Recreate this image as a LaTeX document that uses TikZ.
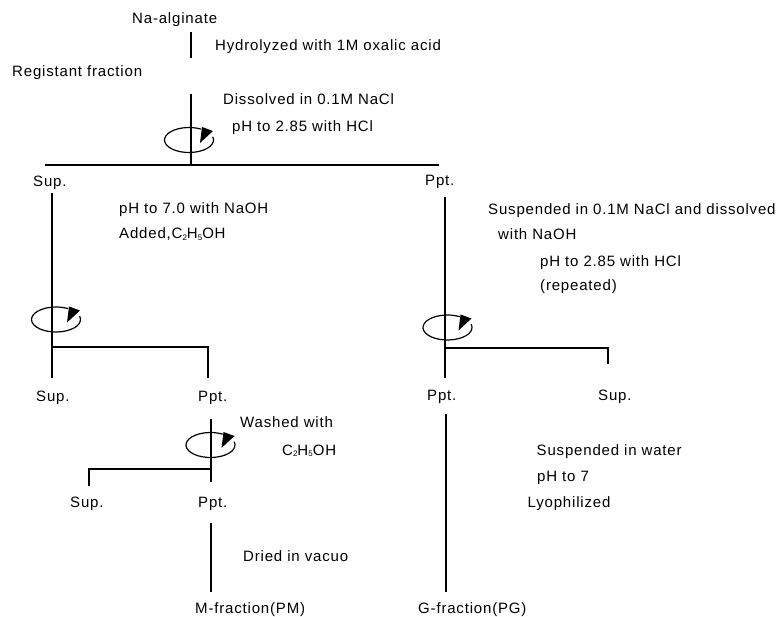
\documentclass[tikz,border=0pt]{standalone}
\usepackage{fontspec}
\setmainfont[LetterSpace=5.5]{Liberation Sans}
\newcommand{\subsc}[1]{\raisebox{-1.8pt}{\fontsize{8}{8}\selectfont #1}}
\begin{document}
\begin{tikzpicture}[x=1pt,y=-1pt,
  lbl/.style={anchor=base west, inner sep=0pt, font=\fontsize{15}{18}\selectfont},
  ln/.style={line width=1.3pt},
  spin/.pic={
    \draw[line width=1.2pt] (-15:24.5 and 12.5) arc[start angle=-15,end angle=300,x radius=24.5,y radius=12.5];
    \fill (11,3) -- (13,-13) -- (24,-9) -- cycle;
  }]
\useasboundingbox (0,0) rectangle (776,617);

% texts
\node[lbl] (na)   at (132,24)    {Na-alginate};
\node[lbl] (hyd)  at (215,50.7)  {Hydrolyzed with 1M oxalic acid};
\node[lbl] (reg)  at (12,77)     {Registant fraction};
\node[lbl] (dis)  at (223,105)   {Dissolved in 0.1M NaCl};
\node[lbl] (ph1)  at (232,132)   {pH to 2.85 with HCl};
\node[lbl] (sup1) at (33,186.5)  {Sup.};
\node[lbl] (ppt1) at (425,186)   {Ppt.};
\node[lbl] (susp) at (488,215)   {Suspended in 0.1M NaCl and dissolved};
\node[lbl] (wna)  at (498,240)   {with NaOH};
\node[lbl] (ph2)  at (540,266.7) {pH to 2.85 with HCl};
\node[lbl] (rep)  at (540,291)   {(repeated)};
\node[lbl] (ph7)  at (119,213.3) {pH to 7.0 with NaOH};
\node[lbl] (add)  at (119,239)   {Added,C\subsc{2}H\subsc{5}OH};
\node[lbl] (sup2) at (36,401.7)  {Sup.};
\node[lbl] (ppt2) at (198,401.7) {Ppt.};
\node[lbl] (wash) at (240,427)   {Washed with};
\node[lbl] (eth)  at (282,455)   {C\subsc{2}H\subsc{5}OH};
\node[lbl] (ppt3) at (427,400.7) {Ppt.};
\node[lbl] (sup3) at (598,400.7) {Sup.};
\node[lbl] (swat) at (536.5,455) {Suspended in water};
\node[lbl] (ph7b) at (537,481.7) {pH to 7};
\node[lbl] (lyo)  at (527.5,507) {Lyophilized};
\node[lbl] (sup4) at (70,507)    {Sup.};
\node[lbl] (ppt4) at (198,507)   {Ppt.};
\node[lbl] (dry)  at (243,561.7) {Dried in vacuo};
\node[lbl] (mfr)  at (195,613)   {M-fraction(PM)};
\node[lbl] (gfr)  at (418,613)   {G-fraction(PG)};

% coordinates
\coordinate (a1) at (191,32);  \coordinate (a2) at (191,58);
\coordinate (b1) at (191,94);  \coordinate (b2) at (191,165);
\coordinate (hL) at (45,165);  \coordinate (hR) at (439,165);
\coordinate (l1) at (52,193);  \coordinate (l2) at (52,347);  \coordinate (l3) at (52,378);
\coordinate (m1) at (208,347); \coordinate (m2) at (208,378);
\coordinate (r1) at (445,197); \coordinate (r2) at (445,348); \coordinate (r3) at (445,378);
\coordinate (s1) at (608,348); \coordinate (s2) at (608,364);
\coordinate (p1) at (211,419); \coordinate (p2) at (211,469); \coordinate (p3) at (211,482);
\coordinate (q1) at (89,469);  \coordinate (q2) at (89,486);
\coordinate (d1) at (211,523); \coordinate (d2) at (211,592);
\coordinate (g1) at (446,414); \coordinate (g2) at (446,592);

% lines
\draw[ln] (a1) -- (a2);
\draw[ln] (b1) -- (b2);
\draw[ln] (hL) -- (hR);
\draw[ln] (l1) -- (l3);
\draw[ln] (l2) -- (m1) -- (m2);
\draw[ln] (r1) -- (r3);
\draw[ln] (r2) -- (s1) -- (s2);
\draw[ln] (p1) -- (p3);
\draw[ln] (p2) -- (q1) -- (q2);
\draw[ln] (d1) -- (d2);
\draw[ln] (g1) -- (g2);

% centrifuge symbols
\pic at (189,140) {spin};
\pic at (56,319.5) {spin};
\pic at (447.5,327.5) {spin};
\pic at (210.5,445) {spin};
\end{tikzpicture}
\end{document}
